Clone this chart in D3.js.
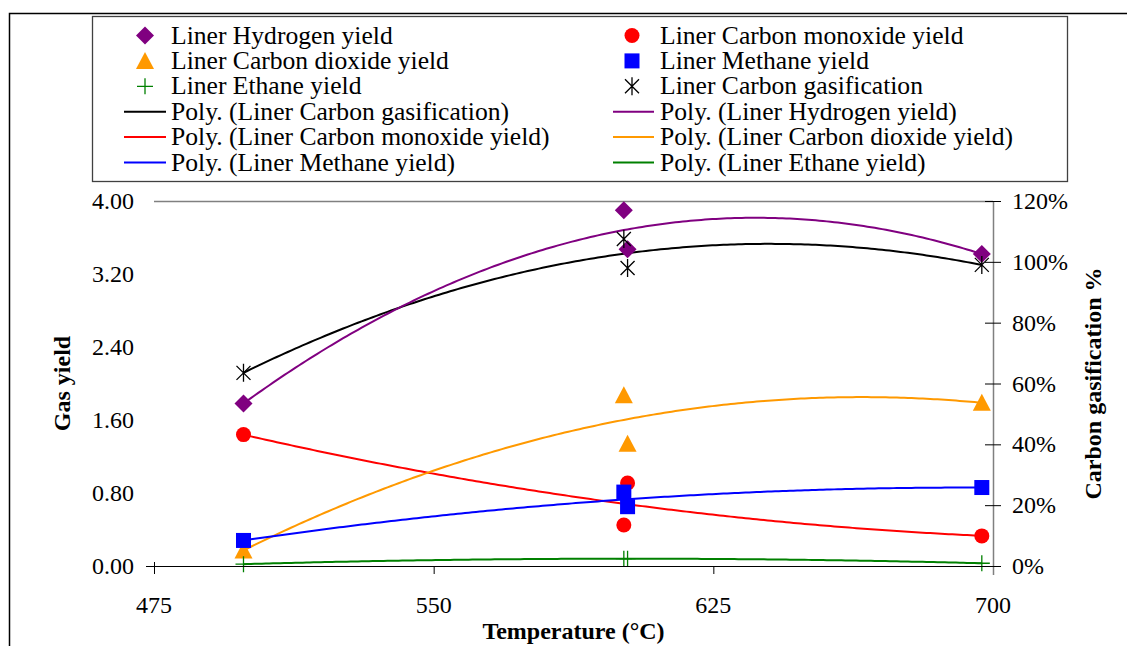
<!DOCTYPE html>
<html>
<head>
<meta charset="utf-8">
<script src="https://cdn.jsdelivr.net/npm/d3@7"></script>
<style>
  body { margin: 0; background: #fff; }
  svg { display: block; }
</style>
</head>
<body>
<svg id="chart" width="1127" height="646"></svg>
<script>
// Reactor temperature (°C) for each run
const temperatures = [499, 601, 602, 697];

// Gas yields per run (left axis)
const hydrogenYield = [1.78, 3.90, 3.47, 3.42];
const carbonMonoxideYield = [1.44, 0.45, 0.91, 0.33];
const carbonDioxideYield = [0.17, 1.87, 1.34, 1.79];
const methaneYield = [0.28, 0.81, 0.65, 0.86];
const ethaneYield = [0.02, 0.08, 0.08, 0.03];

// Carbon gasification per run (right axis, fraction)
const carbonGasification = [0.635, 1.075, 0.98, 0.99];

// Axis ticks
const xTicks = [475, 550, 625, 700];
const yLeftTicks = [0, 0.8, 1.6, 2.4, 3.2, 4.0];
const yRightTicks = [0, 0.2, 0.4, 0.6, 0.8, 1.0, 1.2];

const svg = d3.select("#chart").style("font-family", "'Liberation Serif', 'Tinos', serif");

const plot = { left: 154, right: 993, top: 201, bottom: 566 };
const x = d3.scaleLinear().domain([475, 700]).range([plot.left, plot.right]);
const yL = d3.scaleLinear().domain([0, 4]).range([plot.bottom, plot.top]);
const yR = d3.scaleLinear().domain([0, 1.2]).range([plot.bottom, plot.top]);

// Outer frame (top and left edges)
svg.append("path")
  .attr("d", "M9.5,646 V13.5 H1127")
  .attr("fill", "none").attr("stroke", "#000").attr("stroke-width", 1.5);

// Second-order least-squares fit, as a spreadsheet polynomial trendline
function polyFit2(xs, ys) {
  const m = d3.mean(xs);
  const u = xs.map(v => v - m);
  let s0 = u.length, s1 = 0, s2 = 0, s3 = 0, s4 = 0, t0 = 0, t1 = 0, t2 = 0;
  u.forEach((v, i) => {
    s1 += v; s2 += v * v; s3 += v ** 3; s4 += v ** 4;
    t0 += ys[i]; t1 += v * ys[i]; t2 += v * v * ys[i];
  });
  // Solve the 3x3 normal equations by Cramer's rule
  const det3 = (a) => a[0][0]*(a[1][1]*a[2][2]-a[1][2]*a[2][1]) - a[0][1]*(a[1][0]*a[2][2]-a[1][2]*a[2][0]) + a[0][2]*(a[1][0]*a[2][1]-a[1][1]*a[2][0]);
  const A = [[s0, s1, s2], [s1, s2, s3], [s2, s3, s4]];
  const B = [t0, t1, t2];
  const D = det3(A);
  const coef = [0, 1, 2].map(k => det3(A.map((row, r) => row.map((c, j) => j === k ? B[r] : c))) / D);
  return xv => coef[0] + coef[1] * (xv - m) + coef[2] * (xv - m) ** 2;
}

const series = [
  { name: "Hydrogen yield", values: hydrogenYield, color: "#800080", marker: "diamond", y: yL },
  { name: "Carbon monoxide yield", values: carbonMonoxideYield, color: "#FF0000", marker: "circle", y: yL },
  { name: "Carbon dioxide yield", values: carbonDioxideYield, color: "#FF9900", marker: "triangle", y: yL },
  { name: "Methane yield", values: methaneYield, color: "#0000FF", marker: "square", y: yL },
  { name: "Ethane yield", values: ethaneYield, color: "#008000", marker: "plus", y: yL },
  { name: "Carbon gasification", values: carbonGasification, color: "#000000", marker: "star", y: yR }
];

// Plot area top border
svg.append("line")
  .attr("x1", plot.left).attr("x2", plot.right)
  .attr("y1", plot.top + 0.5).attr("y2", plot.top + 0.5)
  .attr("stroke", "#808080").attr("stroke-width", 1.5);

// Trendlines
const tMin = d3.min(temperatures), tMax = d3.max(temperatures);
const samples = d3.range(0, 201).map(i => tMin + (tMax - tMin) * i / 200);
const trendOrder = [5, 0, 1, 2, 3, 4];
trendOrder.forEach(idx => {
  const s = series[idx];
  const f = polyFit2(temperatures, s.values);
  svg.append("path")
    .datum(samples)
    .attr("fill", "none")
    .attr("stroke", s.color)
    .attr("stroke-width", 2)
    .attr("d", d3.line().x(d => x(d)).y(d => s.y(f(d))));
});

// Marker drawing
function drawMarker(g, type, color, cx, cy) {
  if (type === "diamond") {
    g.append("path").attr("d", `M${cx},${cy - 9} L${cx + 9},${cy} L${cx},${cy + 9} L${cx - 9},${cy} Z`).attr("fill", color);
  } else if (type === "circle") {
    g.append("circle").attr("cx", cx).attr("cy", cy).attr("r", 7.5).attr("fill", color);
  } else if (type === "triangle") {
    g.append("path").attr("d", `M${cx},${cy - 9} L${cx + 9},${cy + 8} L${cx - 9},${cy + 8} Z`).attr("fill", color);
  } else if (type === "square") {
    g.append("rect").attr("x", cx - 7.5).attr("y", cy - 7.5).attr("width", 15).attr("height", 15).attr("fill", color);
  } else if (type === "plus") {
    g.append("path").attr("d", `M${cx - 8},${cy} H${cx + 8} M${cx},${cy - 8} V${cy + 8}`).attr("stroke", color).attr("stroke-width", 1.3).attr("fill", "none");
  } else if (type === "star") {
    g.append("path").attr("d", `M${cx - 7},${cy - 7} L${cx + 7},${cy + 7} M${cx + 7},${cy - 7} L${cx - 7},${cy + 7} M${cx},${cy - 9} V${cy + 9}`).attr("stroke", color).attr("stroke-width", 1.3).attr("fill", "none");
  }
}

const markers = svg.append("g");
series.forEach(s => {
  s.values.forEach((v, i) => drawMarker(markers, s.marker, s.color, x(temperatures[i]), s.y(v)));
});

// X axis
const xAxisG = svg.append("g");
xAxisG.append("line").attr("x1", plot.left - 8).attr("x2", plot.right)
  .attr("y1", plot.bottom + 0.5).attr("y2", plot.bottom + 0.5).attr("stroke", "#000").attr("stroke-width", 1.2);
xTicks.forEach(t => {
  xAxisG.append("line").attr("x1", x(t) + 0.5).attr("x2", x(t) + 0.5)
    .attr("y1", t === 475 ? plot.bottom - 4 : plot.bottom).attr("y2", plot.bottom + 8).attr("stroke", "#000").attr("stroke-width", 1);
  xAxisG.append("text").attr("x", x(t)).attr("y", 613).attr("text-anchor", "middle")
    .attr("font-size", 24).text(t);
});

// Left axis labels
yLeftTicks.forEach(t => {
  svg.append("text").attr("x", 134).attr("y", yL(t) + 8).attr("text-anchor", "end")
    .attr("font-size", 24).text(d3.format(".2f")(t));
});

// Right axis
svg.append("line").attr("x1", plot.right + 0.5).attr("x2", plot.right + 0.5)
  .attr("y1", plot.top).attr("y2", plot.bottom + 9).attr("stroke", "#808080").attr("stroke-width", 1.5);
yRightTicks.forEach(t => {
  svg.append("line").attr("x1", plot.right - 8).attr("x2", plot.right + 8)
    .attr("y1", yR(t) + 0.5).attr("y2", yR(t) + 0.5).attr("stroke", "#000").attr("stroke-width", 1);
  svg.append("text").attr("x", 1012).attr("y", yR(t) + 8).attr("text-anchor", "start")
    .attr("font-size", 24).text(d3.format(".0%")(t));
});

// Axis titles
svg.append("text").attr("x", (plot.left + plot.right) / 2).attr("y", 639)
  .attr("text-anchor", "middle").attr("font-size", 24).attr("font-weight", "bold").text("Temperature (°C)");
svg.append("text").attr("transform", `translate(70,${(plot.top + plot.bottom) / 2}) rotate(-90)`)
  .attr("text-anchor", "middle").attr("font-size", 24).attr("font-weight", "bold").text("Gas yield");
svg.append("text").attr("transform", `translate(1101,${(plot.top + plot.bottom) / 2}) rotate(-90)`)
  .attr("text-anchor", "middle").attr("font-size", 24).attr("font-weight", "bold").text("Carbon gasification %");

// Legend
const legend = svg.append("g");
legend.append("rect").attr("x", 92.5).attr("y", 16.5).attr("width", 975).attr("height", 165)
  .attr("fill", "#fff").attr("stroke", "#404040").attr("stroke-width", 1.3);

const legendItems = [
  { col: 0, row: 0, kind: "marker", s: series[0] },
  { col: 0, row: 1, kind: "marker", s: series[2] },
  { col: 0, row: 2, kind: "marker", s: series[4] },
  { col: 0, row: 3, kind: "line", s: series[5] },
  { col: 0, row: 4, kind: "line", s: series[1] },
  { col: 0, row: 5, kind: "line", s: series[3] },
  { col: 1, row: 0, kind: "marker", s: series[1] },
  { col: 1, row: 1, kind: "marker", s: series[3] },
  { col: 1, row: 2, kind: "marker", s: series[5] },
  { col: 1, row: 3, kind: "line", s: series[0] },
  { col: 1, row: 4, kind: "line", s: series[2] },
  { col: 1, row: 5, kind: "line", s: series[4] }
];
const colX = [{ mark: 145, line0: 124, line1: 166, text: 171 }, { mark: 632, line0: 613, line1: 654, text: 660 }];
legendItems.forEach(it => {
  const c = colX[it.col];
  const cy = 35.5 + it.row * 25.4;
  if (it.kind === "marker") {
    drawMarker(legend, it.s.marker, it.s.color, c.mark, cy);
    legend.append("text").attr("x", c.text).attr("y", cy + 8).attr("font-size", 25.6).text("Liner " + it.s.name);
  } else {
    legend.append("line").attr("x1", c.line0).attr("x2", c.line1).attr("y1", cy).attr("y2", cy)
      .attr("stroke", it.s.color).attr("stroke-width", 2);
    legend.append("text").attr("x", c.text).attr("y", cy + 8).attr("font-size", 25.6).text("Poly. (Liner " + it.s.name + ")");
  }
});
</script>
</body>
</html>
